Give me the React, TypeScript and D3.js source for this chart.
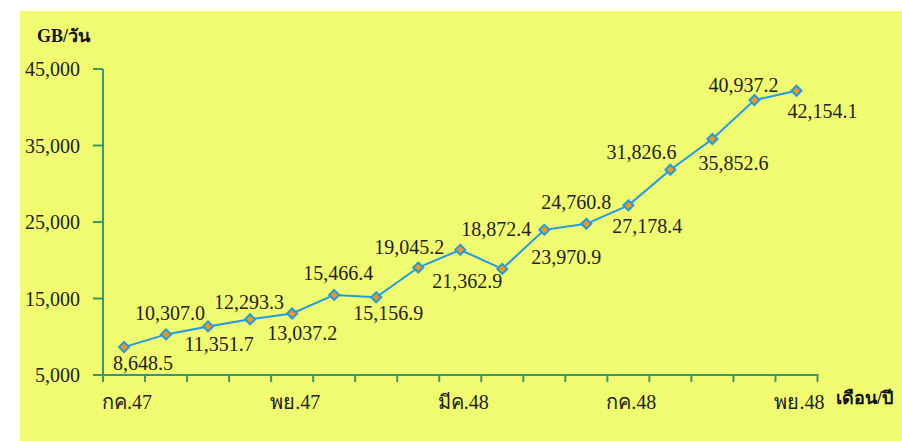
import React from "react";
import * as d3 from "d3";

const months = [
  "กค.47", "สค.47", "กย.47", "ตค.47", "พย.47", "ธค.47", "มค.48", "กพ.48",
  "มีค.48", "เมย.48", "พค.48", "มิย.48", "กค.48", "สค.48", "กย.48", "ตค.48", "พย.48",
];
const shownMonthLabels = ["กค.47", "พย.47", "มีค.48", "กค.48", "พย.48"];
const traffic = [
  8648.5, 10307.0, 11351.7, 12293.3, 13037.2, 15466.4, 15156.9, 19045.2,
  21362.9, 18872.4, 23970.9, 24760.8, 27178.4, 31826.6, 35852.6, 40937.2, 42154.1,
];
const yTicks = [5000, 15000, 25000, 35000, 45000];
// label placement relative to each marker (dx, dy of baseline)
const labelDx = [19, 4, 11, -1, 10, 4, 12, -9, 7, -6, 22, -10, 19, -29, 21, -11, 26];
const labelDy = [23, -14, 25, -10, 26, -15, 23, -14, 38, -33, 34, -15, 28, -11, 31, -8, 27];

const W = 902;
const H = 441;
const FONT = "'Liberation Serif', 'DejaVu Serif', serif";

export default function App() {
  const x = d3.scaleBand<string>().domain(months).range([103, 817.5]).padding(0);
  const y = d3.scaleLinear().domain([5000, 45000]).range([375, 69]);
  const fmt = d3.format(",.1f");
  const fmtAxis = d3.format(",");
  const cx = (i: number) => (x(months[i]) as number) + x.bandwidth() / 2;
  const line = d3
    .line<number>()
    .x((_, i) => cx(i))
    .y((d) => y(d));
  const axisColor = "#3a9a66";
  const boundaries = d3.range(months.length + 1).map((i) => 103 + i * x.bandwidth());

  return (
    <svg
      width={W}
      height={H}
      style={{ position: "absolute", left: 0, top: 0, display: "block" }}
      fontFamily={FONT}
    >
      <rect x={0} y={0} width={W} height={H} fill="#ffffff" />
      <rect x={20} y={11} width={W - 20} height={H - 11} fill="#f0fb6f" />
      <text x={37} y={42} fontSize={18} fontWeight="bold" fill="#111">GB/วัน</text>
      <text x={893} y={404} fontSize={18} fontWeight="bold" fill="#111" textAnchor="end">เดือน/ปี</text>

      {/* y axis */}
      <line x1={103} x2={103} y1={y(45000)} y2={y(5000) + 1} stroke={axisColor} strokeWidth={2} />
      {yTicks.map((t) => (
        <g key={t}>
          <line x1={93} x2={103} y1={y(t)} y2={y(t)} stroke={axisColor} strokeWidth={2} />
          <text x={80} y={y(t)} dy="0.35em" textAnchor="end" fontSize={20} fill="#222">
            {fmtAxis(t)}
          </text>
        </g>
      ))}

      {/* x axis */}
      <line x1={102} x2={818.5} y1={y(5000)} y2={y(5000)} stroke={axisColor} strokeWidth={2} />
      {boundaries.map((bx, i) => (
        <line key={i} x1={bx} x2={bx} y1={y(5000)} y2={y(5000) + 7} stroke={axisColor} strokeWidth={2} />
      ))}
      {months.map((m, i) =>
        shownMonthLabels.includes(m) ? (
          <text key={m} x={cx(i) + 3} y={409} textAnchor="middle" fontSize={20} fill="#222">
            {m}
          </text>
        ) : null
      )}

      {/* series */}
      <path d={line(traffic) || ""} fill="none" stroke="#1e9be9" strokeWidth={2} />
      {traffic.map((v, i) => (
        <path
          key={i}
          d={d3.symbol(d3.symbolDiamond2, 64)() || ""}
          transform={`translate(${cx(i)},${y(v)})`}
          fill="#f5960f"
          stroke="#1e9be9"
          strokeWidth={2}
        />
      ))}
      {traffic.map((v, i) => (
        <text
          key={"l" + i}
          x={cx(i) + labelDx[i]}
          y={y(v) + labelDy[i]}
          textAnchor="middle"
          fontSize={20}
          fill="#222"
        >
          {fmt(v)}
        </text>
      ))}
    </svg>
  );
}
